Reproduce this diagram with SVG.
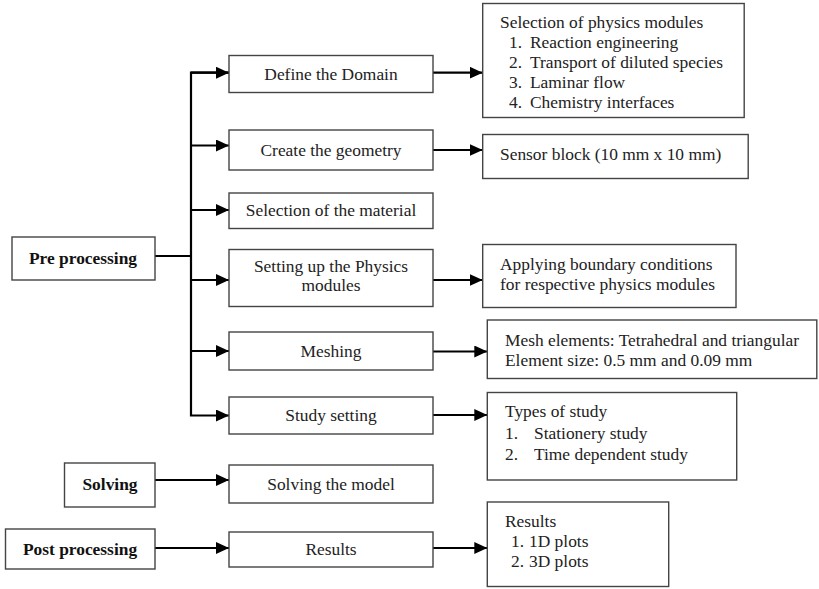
<svg xmlns="http://www.w3.org/2000/svg" width="819" height="589" viewBox="0 0 819 589">
<style>
.box{fill:#fff;stroke:#444;stroke-width:1.4}
.t{font-family:"Liberation Serif","Times New Roman",serif;font-size:17.4px;fill:#222}
.c{text-anchor:middle}
.b{font-weight:bold;fill:#111}
.conn{fill:none;stroke:#000;stroke-width:2.2}
</style>
<defs>
<marker id="ah" markerUnits="userSpaceOnUse" markerWidth="14" markerHeight="12" refX="13" refY="6" orient="auto">
<path d="M0,0 L13,6 L0,12 z" fill="#000"/>
</marker>
</defs>
<rect width="819" height="589" fill="#fff"/>
<g id="connectors">
<path class="conn" d="M155,256 H191"/>
<path class="conn" d="M229,72.7 H191 V415.5 H229" marker-end="url(#ah)"/>
<path class="conn" d="M191,72.7 H229" marker-end="url(#ah)"/>
<path class="conn" d="M191,145.5 H229" marker-end="url(#ah)"/>
<path class="conn" d="M191,210 H229" marker-end="url(#ah)"/>
<path class="conn" d="M191,280 H229" marker-end="url(#ah)"/>
<path class="conn" d="M191,351 H229" marker-end="url(#ah)"/>
<path class="conn" d="M155,480 H229" marker-end="url(#ah)"/>
<path class="conn" d="M155,548 H229" marker-end="url(#ah)"/>
<path class="conn" d="M433,72.7 H482.7" marker-end="url(#ah)"/>
<path class="conn" d="M433,150 H482.7" marker-end="url(#ah)"/>
<path class="conn" d="M433,280 H482.7" marker-end="url(#ah)"/>
<path class="conn" d="M433,351.5 H487.3" marker-end="url(#ah)"/>
<path class="conn" d="M433,415 H487.3" marker-end="url(#ah)"/>
<path class="conn" d="M433,548 H487.3" marker-end="url(#ah)"/>
</g>
<g id="pre">
<rect class="box" x="12" y="237" width="143" height="43"/>
<text class="t c b" x="83" y="264">Pre processing</text>
</g>
<g id="solving">
<rect class="box" x="64.5" y="463" width="90.5" height="44"/>
<text class="t c b" x="110" y="490">Solving</text>
</g>
<g id="post">
<rect class="box" x="5.5" y="529" width="149.5" height="40"/>
<text class="t c b" x="80" y="555">Post processing</text>
</g>
<g id="domain">
<rect class="box" x="229" y="55.5" width="204" height="37"/>
<text class="t c" x="331" y="80">Define the Domain</text>
</g>
<g id="geometry">
<rect class="box" x="229" y="130" width="204" height="40"/>
<text class="t c" x="331" y="156">Create the geometry</text>
</g>
<g id="material">
<rect class="box" x="229" y="193" width="204" height="35.5"/>
<text class="t c" x="331" y="216">Selection of the material</text>
</g>
<g id="physics">
<rect class="box" x="229" y="249.5" width="204" height="57"/>
<text class="t c" x="331" y="272">Setting up the Physics</text>
<text class="t c" x="331" y="291">modules</text>
</g>
<g id="meshing">
<rect class="box" x="229" y="332" width="204" height="38"/>
<text class="t c" x="331" y="357">Meshing</text>
</g>
<g id="study">
<rect class="box" x="229" y="397" width="204" height="37"/>
<text class="t c" x="331" y="421">Study setting</text>
</g>
<g id="solvemodel">
<rect class="box" x="229" y="465" width="204" height="38"/>
<text class="t c" x="331" y="490">Solving the model</text>
</g>
<g id="results">
<rect class="box" x="229" y="532" width="204" height="35"/>
<text class="t c" x="331" y="555">Results</text>
</g>
<g id="modules">
<rect class="box" x="482.7" y="3.5" width="261.5" height="114"/>
<text class="t" x="500" y="28">Selection of physics modules</text>
<text class="t" x="509" y="48">1.</text><text class="t" x="530" y="48">Reaction engineering</text>
<text class="t" x="509" y="68">2.</text><text class="t" x="530" y="68">Transport of diluted species</text>
<text class="t" x="509" y="88">3.</text><text class="t" x="530" y="88">Laminar flow</text>
<text class="t" x="509" y="108">4.</text><text class="t" x="530" y="108">Chemistry interfaces</text>
</g>
<g id="sensor">
<rect class="box" x="482.7" y="134.5" width="265.5" height="44"/>
<text class="t" x="500" y="160">Sensor block (10 mm x 10 mm)</text>
</g>
<g id="boundary">
<rect class="box" x="482.7" y="244.5" width="253.3" height="63"/>
<text class="t" x="500" y="270">Applying boundary conditions</text>
<text class="t" x="500" y="290">for respective physics modules</text>
</g>
<g id="mesh">
<rect class="box" x="487.3" y="320" width="329.5" height="58.5"/>
<text class="t" x="505" y="346">Mesh elements: Tetrahedral and triangular</text>
<text class="t" x="505" y="366">Element size: 0.5 mm and 0.09 mm</text>
</g>
<g id="types">
<rect class="box" x="487.3" y="392.5" width="249.4" height="87.5"/>
<text class="t" x="505" y="417">Types of study</text>
<text class="t" x="505" y="438.5">1.</text><text class="t" x="534" y="438.5">Stationery study</text>
<text class="t" x="505" y="460">2.</text><text class="t" x="534" y="460">Time dependent study</text>
</g>
<g id="plots">
<rect class="box" x="487.3" y="502" width="181.4" height="84.5"/>
<text class="t" x="505" y="527">Results</text>
<text class="t" x="511" y="547">1.</text><text class="t" x="529" y="547">1D plots</text>
<text class="t" x="511" y="567">2.</text><text class="t" x="529" y="567">3D plots</text>
</g>
</svg>
